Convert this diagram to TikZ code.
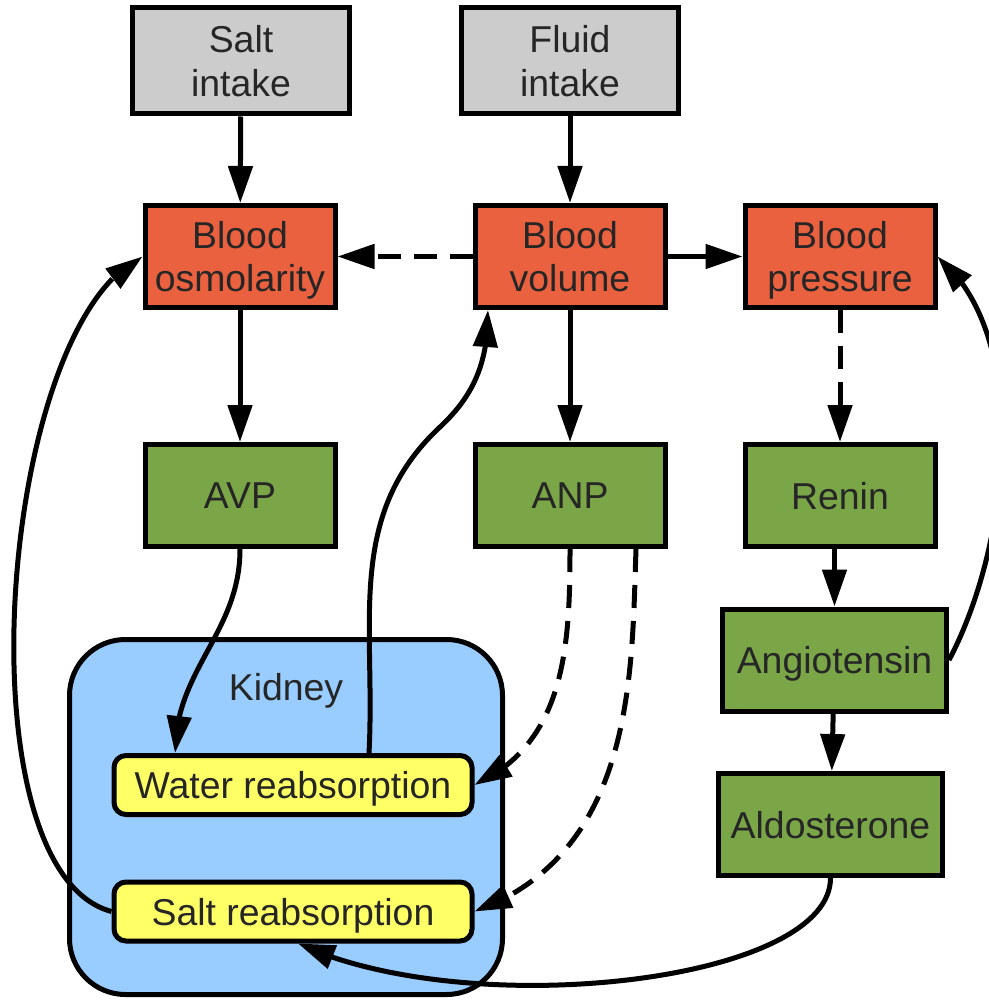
\documentclass[tikz,border=0pt]{standalone}
\usepackage{fontspec}
\setmainfont{Liberation Sans}
\usetikzlibrary{positioning,arrows.meta,bending}

\definecolor{intakegray}{RGB}{204,204,204}
\definecolor{bloodred}{RGB}{234,97,64}
\definecolor{hormgreen}{RGB}{122,166,72}
\definecolor{kidblue}{RGB}{153,204,255}
\definecolor{reabyellow}{RGB}{255,255,102}

\begin{document}
\begin{tikzpicture}[
  x=0.5pt, y=-0.5pt,
  font=\fontsize{18.7}{21.7}\selectfont,
  node distance=66pt,
  box/.style={draw,line width=2.5pt,inner sep=2pt,align=center,text=black!85,
    text depth=0pt},
  intake/.style={box,fill=intakegray,minimum width=108.5pt,minimum height=53pt},
  blood/.style={box,fill=bloodred,minimum width=95pt,minimum height=51pt},
  hormone/.style={box,fill=hormgreen,minimum width=95pt,minimum height=51pt},
  organ/.style={draw,line width=2.5pt,rounded corners=28pt,fill=kidblue,
    minimum width=216.5pt,minimum height=177.5pt},
  reabs/.style={box,rounded corners=6pt,fill=reabyellow,
    minimum width=179pt,minimum height=29.5pt},
  link/.style={line width=2.5pt,-{Triangle[length=18.5pt,width=12pt]}},
  weak/.style={link,dash pattern=on 11.5pt off 6.5pt}
]
  \useasboundingbox (0,0) rectangle (989,1000);

  % inputs and blood state
  \node[intake] (salt) at (241,61) {Salt\\intake};
  \node[intake] (fluid) at (570,61) {Fluid\\intake};
  \node[blood] (osmo) at (240,256.5) {Blood\\osmolarity};
  \node[blood] (volume) at (570,256.5) {Blood\\volume};
  \node[blood] (pressure) at (840,256.5) {Blood\\pressure};

  % hormones
  \node[hormone,below=of osmo] (avp) {AVP};
  \node[hormone,below=of volume] (anp) {ANP};
  \node[hormone,below=of pressure] (renin) {Renin};
  \node[hormone,minimum width=112pt] (angio) at (834.5,660) {Angiotensin};
  \node[hormone,minimum width=112pt] (aldo) at (830.5,824.5) {Aldosterone};

  % kidney
  \node[organ] (kidney) at (286,817) {};
  \node[text=black!85,text depth=0pt] (kidlabel) at (286,687) {Kidney};
  \node[reabs] (water) at (293,785) {Water reabsorption};
  \node[reabs] (saltre) at (293,911.5) {Salt reabsorption};

  \draw[link] (salt) -- (osmo);
  \draw[link] (fluid) -- (volume);
  \draw[weak] (volume) -- (osmo);
  \draw[link] (volume) -- (pressure);
  \draw[link] (osmo) -- (avp);
  \draw[link] (volume) -- (anp);
  \draw[weak] (pressure) -- (renin);
  \draw[link] (renin.south -| angio) -- (angio);
  \draw[link] (angio) -- (aldo);

  % feedback loops
  \draw[link] (avp.south) to[out=-90,in=90] ([xshift=-59pt]water.north);
  \coordinate (wbend) at (440,427);
  \draw[link] ([xshift=38pt]water.north) to[out=87,in=-137] (wbend)
    to[out=43,in=-90] ([xshift=-41pt]volume.south);
  \draw[weak] (anp.south) to[out=-90,in=25] (water.east);
  \draw[weak] ([xshift=33pt]anp.south) to[out=-92,in=20,out looseness=0.8,
    in looseness=1.1] (saltre.east);
  \draw[link] (saltre.west) to[out=165,in=-155,looseness=0.62] (osmo.west);
  \draw[link] (aldo.south) to[out=-90,in=-25,out looseness=0.5,in looseness=0.9]
    ([xshift=2.5pt]saltre.south);
  \draw[link] (angio.east) to[out=62,in=-40,looseness=0.8] (pressure.east);
\end{tikzpicture}
\end{document}
